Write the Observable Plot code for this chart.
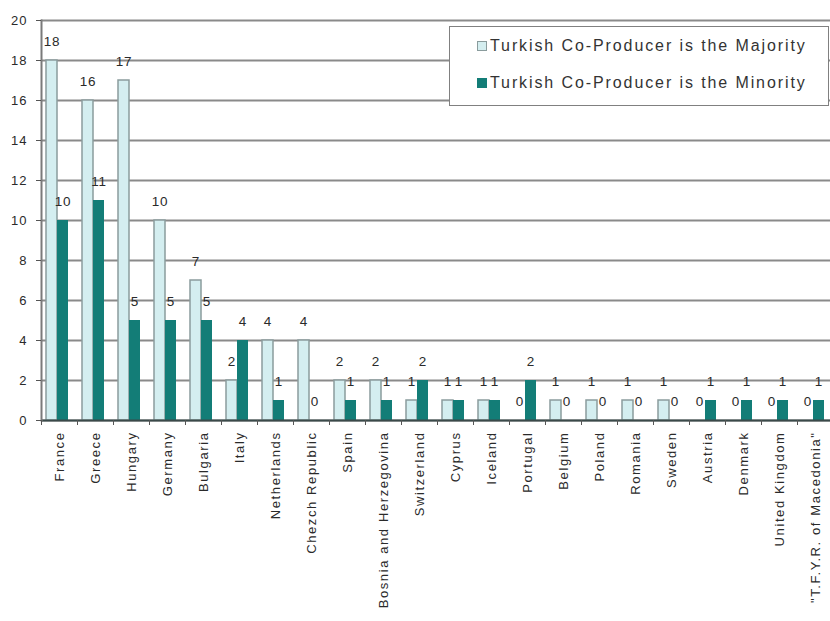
<!DOCTYPE html>
<html><head><meta charset="utf-8">
<script src="https://cdn.jsdelivr.net/npm/d3@7"></script>
<script src="https://cdn.jsdelivr.net/npm/@observablehq/plot@0.6"></script>
<style>
body{margin:0;background:#fff;}
#chart{position:relative;width:830px;height:621px;font-family:"Liberation Sans",Arial,sans-serif;}
#chart svg{display:block;}
g[aria-label="x-axis tick label"] text{letter-spacing:1.6px;}
g[aria-label="y-axis tick label"] text{letter-spacing:1px;}
g[aria-label="text"] text{letter-spacing:0.8px;}
#legend{position:absolute;left:449px;top:26px;width:380px;height:80px;border:1.5px solid #808080;background:#fff;box-sizing:border-box;}
.item{position:absolute;left:27px;display:flex;align-items:center;font-size:16px;letter-spacing:1.9px;color:#333;white-space:nowrap;}
.sw{width:10px;height:10px;margin-right:3px;box-sizing:border-box;}
</style></head>
<body>
<div id="chart"></div>
<script>
const countries = ["France","Greece","Hungary","Germany","Bulgaria","Italy","Netherlands","Chezch Republic","Spain","Bosnia and Herzegovina","Switzerland","Cyprus","Iceland","Portugal","Belgium","Poland","Romania","Sweden","Austria","Denmark","United Kingdom","\"T.F.Y.R. of Macedonia\""];
const majority = [18,16,17,10,7,2,4,4,2,2,1,1,1,0,1,1,1,1,0,0,0,0];
const minority = [10,11,5,5,5,4,1,0,1,1,2,1,1,2,0,0,0,0,1,1,1,1];
const seriesNames = ["Turkish Co-Producer is the Majority","Turkish Co-Producer is the Minority"];
const yTicks = [0,2,4,6,8,10,12,14,16,18,20];

const colors = {majFill:"#d4eef0", majStroke:"#8a9c9d", minFill:"#137d77"};
const rows = countries.map((c,i)=>({country:c, majority:majority[i], minority:minority[i]}));

const chart = Plot.plot({
  width: 830, height: 621,
  marginLeft: 41, marginRight: -3, marginTop: 20, marginBottom: 201,
  style: {fontFamily:'"Liberation Sans",Arial,sans-serif', fontSize:"13px", color:"#2a2a2a", background:"white"},
  x: {domain: countries, padding: 0, label: null},
  y: {domain: [0,20], label: null},
  marks: [
    Plot.ruleY(yTicks, {stroke:"#8a8a8a", strokeWidth:2.2}),
    Plot.barY(rows, {x:"country", y:"majority", filter:d=>d.majority>0, fill:colors.majFill, stroke:colors.majStroke, strokeWidth:1.5, insetLeft:5, insetRight:20}),
    Plot.barY(rows, {x:"country", y:"minority", filter:d=>d.minority>0, fill:colors.minFill, insetLeft:16, insetRight:9}),
    Plot.text(rows, {x:"country", y:"majority", text:d=>String(d.majority), dx:-7.5, dy:-19, fontSize:13.5, fill:"#2a2a2a"}),
    Plot.text(rows, {x:"country", y:"minority", text:d=>String(d.minority), dx:3.5, dy:-19, fontSize:13.5, fill:"#2a2a2a"}),
    Plot.ruleY([0], {stroke:"#3a4a4a", strokeWidth:2}),
    Plot.frame({anchor:"left", stroke:"#7a7a7a", strokeWidth:2}),
    Plot.axisY({ticks:yTicks, tickSize:5, tickPadding:9, fontSize:13, stroke:"#555", label:null}),
    Plot.axisX({tickSize:0, tickRotate:-90, tickPadding:11, fontSize:13, label:null}),
    Plot.axisX({tickSize:5, tickFormat:()=>"", dx:-18, stroke:"#555", label:null})
  ]
});
const root = document.getElementById("chart");
root.appendChild(chart);

const legend = document.createElement("div");
legend.id = "legend";
const swatches = [
  {fill:colors.majFill, stroke:colors.majStroke},
  {fill:colors.minFill, stroke:colors.minFill}
];
seriesNames.forEach((name,i)=>{
  const item = document.createElement("div");
  item.className = "item";
  item.style.top = (i===0 ? 10 : 47) + "px";
  const sw = document.createElement("span");
  sw.className = "sw";
  sw.style.background = swatches[i].fill;
  sw.style.border = "1.5px solid " + swatches[i].stroke;
  const t = document.createElement("span");
  t.textContent = name;
  item.appendChild(sw); item.appendChild(t);
  legend.appendChild(item);
});
root.appendChild(legend);
</script>
</body></html>
